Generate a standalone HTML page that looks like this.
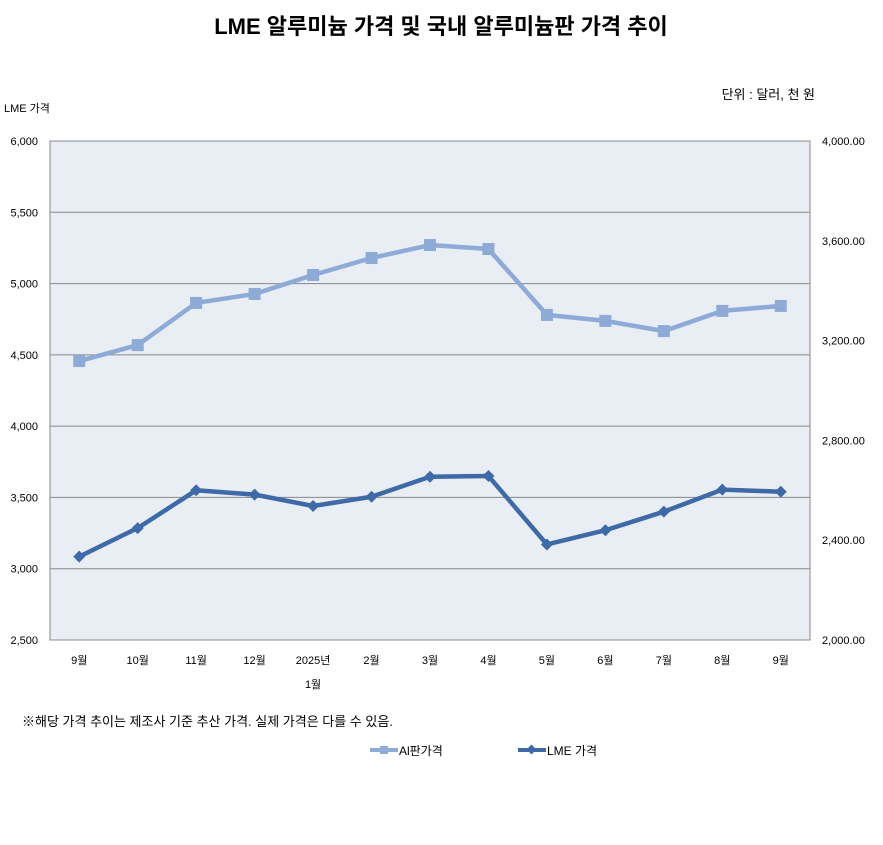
<!DOCTYPE html>
<html><head><meta charset="utf-8">
<style>
body{margin:0;background:#fff;font-family:"Liberation Sans","Noto Sans CJK KR",sans-serif;}
svg text{font-family:"Liberation Sans","Noto Sans CJK KR",sans-serif;}
</style></head>
<body>
<svg width="883" height="840" xmlns="http://www.w3.org/2000/svg">
<rect width="883" height="840" fill="#fff"/>
<text x="441" y="34" text-anchor="middle" font-size="22" font-weight="bold">LME 알루미늄 가격 및 국내 알루미늄판 가격 추이</text>
<text x="815" y="99" text-anchor="end" font-size="13">단위 : 달러, 천 원</text>
<text x="4" y="112" font-size="11">LME 가격</text>
<rect x="50" y="141" width="760" height="499" fill="#e9edf4" stroke="#888"/>
<g id="grid"></g><g id="ticks"></g><g id="series"></g>
<text x="22" y="726" font-size="13">※해당 가격 추이는 제조사 기준 추산 가격. 실제 가격은 다를 수 있음.</text>
<g>
<line x1="370" y1="750" x2="398" y2="750" stroke="#8eaad6" stroke-width="4"/>
<rect x="380" y="746" width="8" height="8" fill="#8eaad6"/>
<text x="399" y="755" font-size="12">Al판가격</text>
<line x1="518" y1="750" x2="546" y2="750" stroke="#3e6aa8" stroke-width="4"/>
<rect x="528" y="746" width="7" height="7" fill="#3e6aa8" transform="rotate(45 531.5 749.5)"/>
<text x="547" y="755" font-size="12">LME 가격</text>
</g>
</svg>
<script>
const categories=["9월","10월","11월","12월","2025년","2월","3월","4월","5월","6월","7월","8월","9월"];
const subLabels=["","","","","1월","","","","","","","",""];
const lmeValues=[3085,3285,3550,3520,3440,3505,3645,3650,3170,3270,3400,3555,3540];
const alValues=[3118,3182,3351,3387,3463,3531,3583,3567,3303,3279,3238,3319,3339];
const leftTicks=[2500,3000,3500,4000,4500,5000,5500,6000];
const rightTicks=[2000,2400,2800,3200,3600,4000];
const NS="http://www.w3.org/2000/svg";
const X0=50,X1=810,Y0=141,Y1=640;
const band=(X1-X0)/categories.length;
const xs=i=>X0+band*(i+0.5);
const yl=v=>Y1-(v-2500)/3500*(Y1-Y0);
const yr=v=>Y1-(v-2000)/2000*(Y1-Y0);
function mk(t,a,p){const e=document.createElementNS(NS,t);for(const k in a)e.setAttribute(k,a[k]);p.appendChild(e);return e;}
const grid=document.getElementById('grid'),ticks=document.getElementById('ticks'),ser=document.getElementById('series');
leftTicks.forEach(v=>{const y=yl(v);
 if(v>2500&&v<6000){const l=mk('line',{x1:X0,x2:X1,y1:y,y2:y,stroke:'#888','stroke-width':1},grid);
 
 }
 const t=mk('text',{x:38,y:y+4,'text-anchor':'end','font-size':11},ticks);t.textContent=v.toLocaleString('en-US');
 
 });
rightTicks.forEach(v=>{const y=yr(v);
 const t=mk('text',{x:822,y:y+4,'font-size':11},ticks);t.textContent=v.toLocaleString('en-US',{minimumFractionDigits:2});
 
 });
categories.forEach((c,i)=>{const t=mk('text',{x:xs(i),y:664,'text-anchor':'middle','font-size':11},ticks);t.textContent=c;
 
 
 if(subLabels[i]){const s=mk('text',{x:xs(i),y:688,'text-anchor':'middle','font-size':11},ticks);s.textContent=subLabels[i];
 
 }});
const alPts=alValues.map((v,i)=>xs(i)+','+yr(v)).join(' ');
const al=mk('polyline',{points:alPts,fill:'none',stroke:'#8eaad6','stroke-width':4.5,'stroke-linejoin':'round'},ser);


alValues.forEach((v,i)=>{const r=mk('rect',{x:xs(i)-6,y:yr(v)-6,width:12,height:12,fill:'#8eaad6'},ser);
 
 });
const lmePts=lmeValues.map((v,i)=>xs(i)+','+yl(v)).join(' ');
const lm=mk('polyline',{points:lmePts,fill:'none',stroke:'#3e6aa8','stroke-width':4.5,'stroke-linejoin':'round'},ser);


lmeValues.forEach((v,i)=>{const x=xs(i),y=yl(v);const p=mk('polygon',{points:`${x},${y-6} ${x+6},${y} ${x},${y+6} ${x-6},${y}`,fill:'#3e6aa8'},ser);
 
 });
</script>
</body></html>
